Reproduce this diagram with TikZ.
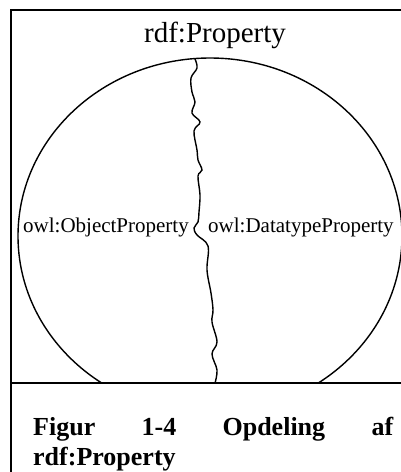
\documentclass[tikz,border=0pt]{standalone}
\usepackage{fontspec}
\setmainfont{Liberation Serif}
\begin{document}
\begin{tikzpicture}[x=1pt, y=-1pt, every node/.style={inner sep=0pt}]
    \useasboundingbox (0,0) rectangle (401,472);

    % Frame
    \draw[line width=1.7pt] (401,10) -- (11,10) -- (11,472);
    \draw[line width=1.7pt] (11,383) -- (401,383);

    % Property circle, cut by the caption line
    \begin{scope}
        \clip (11,10) rectangle (401,383);
        \draw[line width=1.4pt] (210,236) ellipse [x radius=192, y radius=178];
    \end{scope}

    % Split between the two kinds of property
    \draw[line width=1.4pt, line cap=round] plot[smooth, tension=0.6] coordinates {(195,59) (197,68) (191,78) (192,92) (195,102) (192,113) (200,122) (194,131) (197,150) (198,160) (202,170) (198,176) (200,195) (199,212) (198,222) (194,228) (197,235) (208,246) (207,270) (211,293) (213,310) (212,322) (217,342) (212,354) (217,370) (215,383)};

    % Labels
    \node[font=\fontsize{29}{32}\selectfont, anchor=base] (prop) at (215,42) {rdf:Property};
    \node[font=\fontsize{21}{24}\selectfont, anchor=base east] (obj) at (189,232) {owl:ObjectProperty};
    \node[font=\fontsize{21}{24}\selectfont, anchor=base west] (dat) at (208,232) {owl:DatatypeProperty};

    % Caption
    \node[font=\bfseries\fontsize{26}{30}\selectfont, anchor=base west] (cap1) at (33,435) {\makebox[360pt][s]{Figur 1-4 Opdeling af}};
    \node[font=\bfseries\fontsize{26}{30}\selectfont, anchor=base west] (cap2) at (33,465) {rdf:Property};
\end{tikzpicture}
\end{document}
